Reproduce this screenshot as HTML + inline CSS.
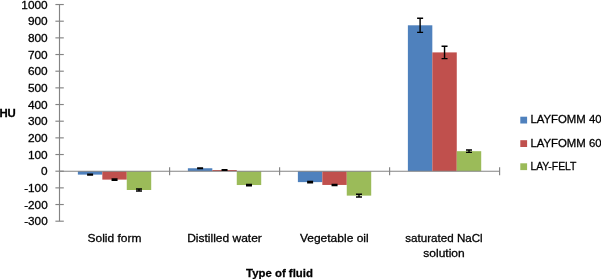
<!DOCTYPE html>
<html><head><meta charset="utf-8"><title>Chart</title>
<style>
html,body{margin:0;padding:0;background:#fff;}
body{width:601px;height:279px;overflow:hidden;}
svg{display:block;will-change:transform;}
text{font-family:"Liberation Sans",sans-serif;fill:#000;stroke:#000;stroke-width:0.28px;}
</style></head><body>
<svg width="601" height="279" viewBox="0 0 601 279">
<rect width="601" height="279" fill="#fff"/>
<rect x="77.88" y="171.20" width="24.44" height="3.42" fill="#4F81BD"/>
<rect x="102.33" y="171.20" width="24.44" height="8.42" fill="#C0504D"/>
<rect x="126.77" y="171.20" width="24.44" height="18.80" fill="#9BBB59"/>
<rect x="187.88" y="168.25" width="24.44" height="2.95" fill="#4F81BD"/>
<rect x="212.33" y="170.03" width="24.44" height="1.17" fill="#C0504D"/>
<rect x="236.77" y="171.20" width="24.44" height="13.83" fill="#9BBB59"/>
<rect x="297.88" y="171.20" width="24.44" height="10.92" fill="#4F81BD"/>
<rect x="322.33" y="171.20" width="24.44" height="13.75" fill="#C0504D"/>
<rect x="346.77" y="171.20" width="24.44" height="24.42" fill="#9BBB59"/>
<rect x="407.88" y="25.30" width="24.44" height="145.90" fill="#4F81BD"/>
<rect x="432.33" y="52.40" width="24.44" height="118.80" fill="#C0504D"/>
<rect x="456.77" y="151.20" width="24.44" height="20.00" fill="#9BBB59"/>
<g stroke="#848484" stroke-width="1.15" fill="none">
<line x1="59.5" y1="4.53" x2="59.5" y2="221.20"/>
<line x1="59.5" y1="171.20" x2="499.6" y2="171.20"/>
<line x1="55.4" y1="221.20" x2="63.8" y2="221.20"/>
<line x1="55.4" y1="204.53" x2="63.8" y2="204.53"/>
<line x1="55.4" y1="187.87" x2="63.8" y2="187.87"/>
<line x1="55.4" y1="171.20" x2="63.8" y2="171.20"/>
<line x1="55.4" y1="154.53" x2="63.8" y2="154.53"/>
<line x1="55.4" y1="137.87" x2="63.8" y2="137.87"/>
<line x1="55.4" y1="121.20" x2="63.8" y2="121.20"/>
<line x1="55.4" y1="104.53" x2="63.8" y2="104.53"/>
<line x1="55.4" y1="87.87" x2="63.8" y2="87.87"/>
<line x1="55.4" y1="71.20" x2="63.8" y2="71.20"/>
<line x1="55.4" y1="54.53" x2="63.8" y2="54.53"/>
<line x1="55.4" y1="37.87" x2="63.8" y2="37.87"/>
<line x1="55.4" y1="21.20" x2="63.8" y2="21.20"/>
<line x1="55.4" y1="4.53" x2="63.8" y2="4.53"/>
<line x1="169.6" y1="167.20" x2="169.6" y2="175.20"/>
<line x1="279.6" y1="167.20" x2="279.6" y2="175.20"/>
<line x1="389.6" y1="167.20" x2="389.6" y2="175.20"/>
<line x1="499.6" y1="167.20" x2="499.6" y2="175.20"/>
</g>
<g stroke="#000" stroke-width="1.4" fill="none">
<path d="M90.11 174.22V175.02M87.11 174.22h6M87.11 175.02h6"/>
<path d="M114.55 179.02V180.22M111.55 179.02h6M111.55 180.22h6"/>
<path d="M138.99 189.00V191.00M135.99 189.00h6M135.99 191.00h6"/>
<path d="M200.11 167.95V168.55M197.11 167.95h6M197.11 168.55h6"/>
<path d="M224.55 169.73V170.33M221.55 169.73h6M221.55 170.33h6"/>
<path d="M248.99 184.33V185.73M245.99 184.33h6M245.99 185.73h6"/>
<path d="M310.11 181.42V182.82M307.11 181.42h6M307.11 182.82h6"/>
<path d="M334.55 184.35V185.55M331.55 184.35h6M331.55 185.55h6"/>
<path d="M358.99 194.27V196.97M355.99 194.27h6M355.99 196.97h6"/>
<path d="M420.11 18.25V32.35M417.11 18.25h6M417.11 32.35h6"/>
<path d="M444.55 46.20V58.60M441.55 46.20h6M441.55 58.60h6"/>
<path d="M468.99 150.05V152.35M465.99 150.05h6M465.99 152.35h6"/>
</g>
<g font-size="11.4" text-anchor="end" lengthAdjust="spacingAndGlyphs">
<text x="47.7" y="225.20" textLength="23.50" lengthAdjust="spacingAndGlyphs">-300</text>
<text x="47.7" y="208.53" textLength="23.50" lengthAdjust="spacingAndGlyphs">-200</text>
<text x="47.7" y="191.87" textLength="23.50" lengthAdjust="spacingAndGlyphs">-100</text>
<text x="47.7" y="175.20" textLength="6.60" lengthAdjust="spacingAndGlyphs">0</text>
<text x="47.7" y="158.53" textLength="19.80" lengthAdjust="spacingAndGlyphs">100</text>
<text x="47.7" y="141.87" textLength="19.80" lengthAdjust="spacingAndGlyphs">200</text>
<text x="47.7" y="125.20" textLength="19.80" lengthAdjust="spacingAndGlyphs">300</text>
<text x="47.7" y="108.53" textLength="19.80" lengthAdjust="spacingAndGlyphs">400</text>
<text x="47.7" y="91.87" textLength="19.80" lengthAdjust="spacingAndGlyphs">500</text>
<text x="47.7" y="75.20" textLength="19.80" lengthAdjust="spacingAndGlyphs">600</text>
<text x="47.7" y="58.53" textLength="19.80" lengthAdjust="spacingAndGlyphs">700</text>
<text x="47.7" y="41.87" textLength="19.80" lengthAdjust="spacingAndGlyphs">800</text>
<text x="47.7" y="25.20" textLength="19.80" lengthAdjust="spacingAndGlyphs">900</text>
<text x="47.7" y="8.53" textLength="26.40" lengthAdjust="spacingAndGlyphs">1000</text>
</g>
<g font-size="11.4" text-anchor="middle">
<text x="114.5" y="241.6" textLength="54" lengthAdjust="spacingAndGlyphs">Solid form</text>
<text x="224.5" y="241.6" textLength="74.7" lengthAdjust="spacingAndGlyphs">Distilled water</text>
<text x="334.3" y="241.6" textLength="68.7" lengthAdjust="spacingAndGlyphs">Vegetable oil</text>
<text x="444.0" y="241.6" textLength="77.4" lengthAdjust="spacingAndGlyphs">saturated NaCl</text>
<text x="444.0" y="256.6" textLength="41.4" lengthAdjust="spacingAndGlyphs">solution</text>
</g>
<text x="-0.6" y="117.4" font-size="11.3" font-weight="bold" stroke-width="0.12" textLength="16.4" lengthAdjust="spacingAndGlyphs">HU</text>
<text x="279.5" y="276.6" font-size="11.8" font-weight="bold" stroke-width="0.12" text-anchor="middle" textLength="66.8" lengthAdjust="spacingAndGlyphs">Type of fluid</text>
<rect x="520.3" y="116.70" width="6.8" height="6.8" fill="#4F81BD"/>
<text x="530.4" y="123.40" font-size="11.3" textLength="71.2" lengthAdjust="spacingAndGlyphs">LAYFOMM 40</text>
<rect x="520.3" y="140.20" width="6.8" height="6.8" fill="#C0504D"/>
<text x="530.4" y="146.90" font-size="11.3" textLength="71.2" lengthAdjust="spacingAndGlyphs">LAYFOMM 60</text>
<rect x="520.3" y="163.30" width="6.8" height="6.8" fill="#9BBB59"/>
<text x="530.4" y="170.00" font-size="11.3" textLength="46.1" lengthAdjust="spacingAndGlyphs">LAY-FELT</text>
</svg>
</body></html>
